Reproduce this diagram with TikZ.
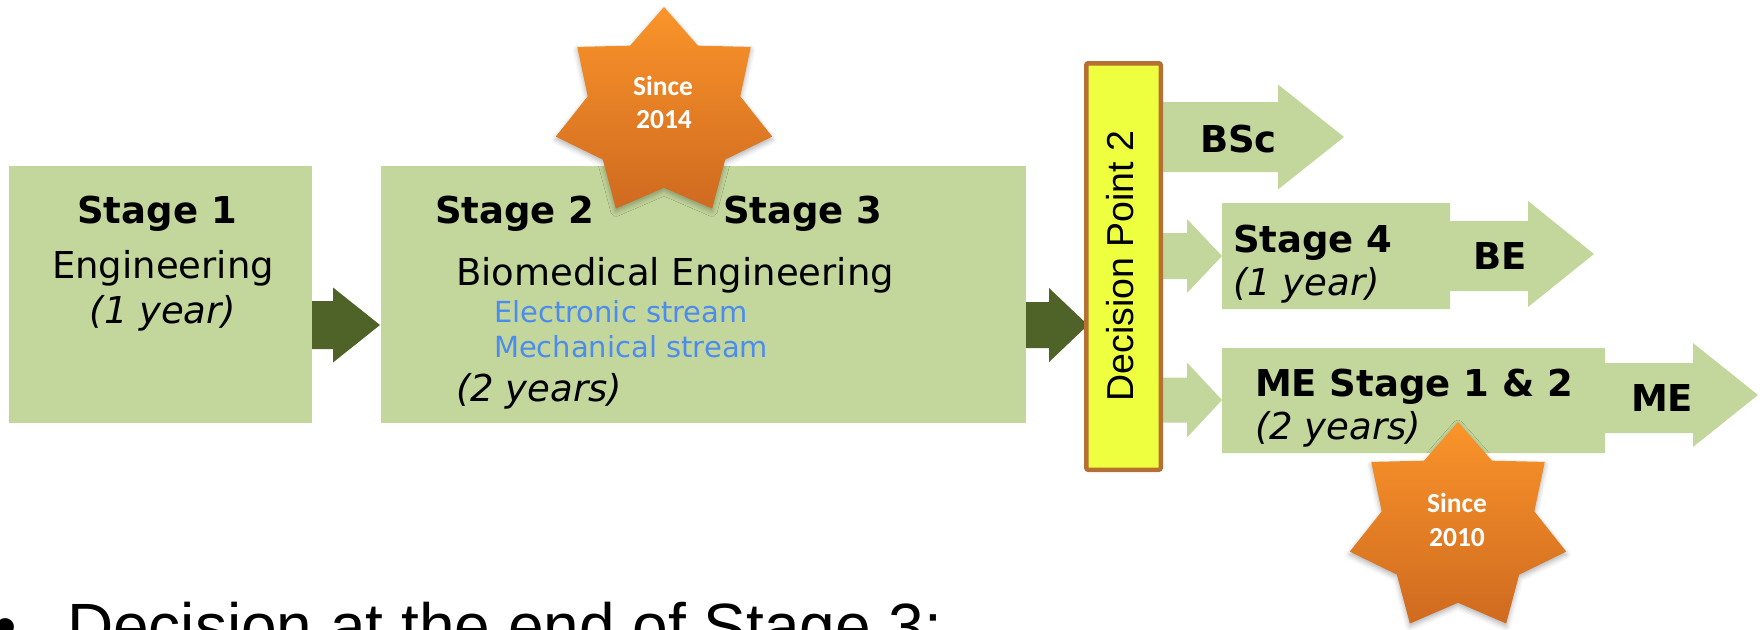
\documentclass[tikz,border=0pt]{standalone}
\usepackage{fontspec}
\setmainfont{DejaVu Sans}
\newfontfamily\calibrifont{Carlito}
\newfontfamily\arialfont{Liberation Sans}
\usetikzlibrary{shadows.blur}

\definecolor{stagegreen}{RGB}{195,214,155}
\definecolor{arrowgreen}{RGB}{79,98,40}
\definecolor{streamblue}{RGB}{76,140,238}
\definecolor{dpyellow}{RGB}{238,255,64}
\definecolor{dpbrown}{RGB}{183,112,52}
\definecolor{startop}{RGB}{250,148,42}
\definecolor{starbottom}{RGB}{207,106,32}

\tikzset{
  stagebox/.style={fill=stagegreen, draw=none, inner sep=0pt, outer sep=0pt},
  lightflow/.style={fill=stagegreen},
  darkflow/.style={fill=arrowgreen},
  lbl/.style={inner sep=0pt, outer sep=0pt, font=\fontsize{37}{44}\selectfont},
  boldlbl/.style={lbl, font=\fontsize{37}{44}\selectfont\bfseries},
  itallbl/.style={lbl, font=\fontsize{37}{44}\selectfont\itshape},
  streamlbl/.style={inner sep=0pt, outer sep=0pt, text=streamblue, font=\fontsize{29}{35}\selectfont},
  startext/.style={inner sep=0pt, outer sep=0pt, text=white, font=\calibrifont\fontsize{27.5}{33}\selectfont\bfseries},
  dplbl/.style={inner sep=0pt, outer sep=0pt, font=\arialfont\fontsize{37.5}{44}\selectfont},
  bottomlbl/.style={inner sep=0pt, outer sep=0pt, font=\arialfont\fontsize{64}{76}\selectfont},
  decbox/.style={draw=dpbrown, line width=4.5pt, fill=dpyellow, rounded corners=2pt, inner sep=0pt, outer sep=0pt},
  starshape/.style={top color=startop, bottom color=starbottom, draw=none,
    blur shadow={shadow xshift=0pt, shadow yshift=-3pt, shadow blur radius=5pt, shadow opacity=30}},
}

% block arrow: style, tail x, head base x, tip x, centre y, half shaft, half head
\newcommand\flowarrow[7]{%
  \path[#1] (#2,#5-#6) -- (#3,#5-#6) -- (#3,#5-#7) -- (#4,#5)
    -- (#3,#5+#7) -- (#3,#5+#6) -- (#2,#5+#6) -- cycle;}

% seven-pointed badge centred at (#1,#2)
\newcommand\orangestar[2]{%
  \begin{scope}[shift={(#1,#2)}, x=111pt, y=106pt]
    \path[starshape] plot[samples at={0,...,13}]
      ({90+\x*360/14}:{1-0.295*mod(\x,2)}) -- cycle;
  \end{scope}}

\begin{document}
\begin{tikzpicture}[x=1pt, y=-1pt]
\useasboundingbox (0,0) rectangle (1763,629);
\clip (0,0) rectangle (1763,629);

% stage boxes
\node[stagebox, minimum width=303pt, minimum height=257pt] (s1) at (160.5,294.5) {};
\node[stagebox, minimum width=645pt, minimum height=257pt] (s23) at (703.5,294.5) {};

% dark arrows between stages
\flowarrow{darkflow}{312}{333}{380}{325}{24}{37.5}
\flowarrow{darkflow}{1026}{1049}{1088}{325}{23}{37}

% outcomes after the decision point
\flowarrow{lightflow}{1150}{1278}{1344}{137}{35}{52.5}
\flowarrow{lightflow}{1150}{1187}{1222}{256}{23}{37}
\flowarrow{lightflow}{1150}{1187}{1222}{400}{22.5}{37.5}
\path[lightflow] (1222,203) -- (1450,203) -- (1450,221) -- (1528,221) -- (1528,201)
  -- (1594,254) -- (1528,307) -- (1528,291) -- (1450,291) -- (1450,309) -- (1222,309) -- cycle;
\path[lightflow] (1222,348) -- (1605,348) -- (1605,363) -- (1693,363) -- (1693,343)
  -- (1758,395) -- (1693,447) -- (1693,433) -- (1605,433) -- (1605,453) -- (1222,453) -- cycle;

% decision point bar
\node[decbox, minimum width=74.5pt, minimum height=406.5pt] (dp) at (1123.5,266.5) {};
\node[dplbl, rotate=90, anchor=base] (dptext) at (1133,266) {Decision Point 2};

% stage 1
\node[boldlbl, anchor=base] (s1title) at (157,223) {Stage 1};
\node[lbl, anchor=base] (s1name) at (163,278) {Engineering};
\node[itallbl, anchor=base] (s1len) at (163,323) {(1 year)};

% stages 2 and 3
\node[boldlbl, anchor=base west] (s2title) at (435,223) {Stage 2};
\node[boldlbl, anchor=base west] (s3title) at (723,223) {Stage 3};
\node[lbl, anchor=base west] (s23name) at (456,285) {Biomedical Engineering};
\node[streamlbl, anchor=base west] (elec) at (494,322) {Electronic stream};
\node[streamlbl, anchor=base west] (mech) at (494,357) {Mechanical stream};
\node[itallbl, anchor=base west] (s23len) at (456,401) {(2 years)};

% outcomes
\node[boldlbl, anchor=base west] (bsc) at (1200,152) {BSc};
\node[boldlbl, anchor=base west] (s4title) at (1233,252) {Stage 4};
\node[itallbl, anchor=base west] (s4len) at (1233,295) {(1 year)};
\node[boldlbl, anchor=base west] (be) at (1473,269) {BE};
\node[boldlbl, anchor=base west] (metitle) at (1255,396) {ME Stage 1 \& 2};
\node[itallbl, anchor=base west] (melen) at (1255,439) {(2 years)};
\node[boldlbl, anchor=base west] (me) at (1631,411) {ME};

% badges
\orangestar{664}{113}
\node[startext, anchor=base] (since1) at (663,95) {Since};
\node[startext, anchor=base] (year1) at (664,128) {2014};
\orangestar{1458}{528}
\node[startext, anchor=base] (since2) at (1457,512) {Since};
\node[startext, anchor=base] (year2) at (1457,546) {2010};

% bullet line below the diagram
\node[bottomlbl, anchor=base] (bullet) at (6,648) {•};
\node[bottomlbl, anchor=base west] (decline) at (67,648) {Decision at the end of Stage 3:};
\end{tikzpicture}
\end{document}
